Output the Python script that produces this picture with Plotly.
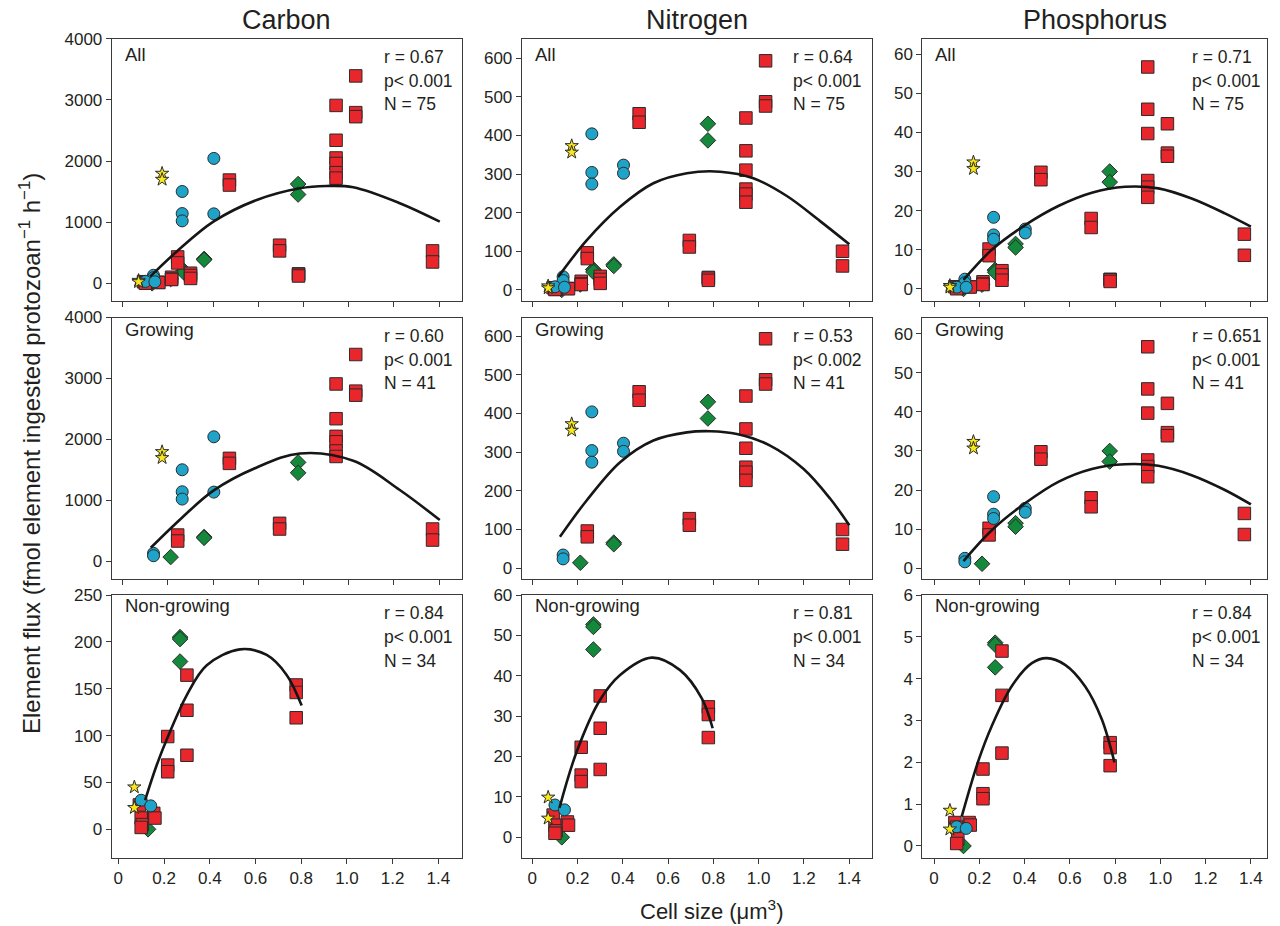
import plotly.graph_objects as go

# ---------------- DATA ----------------
elements = ["Carbon", "Nitrogen", "Phosphorus"]
conditions = ["All", "Growing", "Non-growing"]

# Growing cultures: cell sizes (um^3)
grow_sq_x = [0.243, 0.243, 0.472, 0.472, 0.694, 0.694, 0.944, 0.944, 0.944, 0.944, 0.944, 0.944,
             1.031, 1.031, 1.031, 1.371, 1.371]
grow_ci_x = [0.136, 0.136, 0.263, 0.263, 0.263, 0.403, 0.403]
grow_di_x = [0.212, 0.36, 0.36, 0.776, 0.776]
grow_st_x = [0.174, 0.174]

# Growing fluxes
C_grow_sq = [431, 333, 1689, 1607, 623, 530, 2910, 2340, 2050, 1960, 1810, 1720, 3393, 2792, 2726, 530, 349]
C_grow_ci = [131, 92, 1502, 1141, 1021, 2043, 1136]
C_grow_di = [70, 398, 385, 1623, 1452]
C_grow_st = [1797, 1698]

N_grow_sq = [96, 81, 456, 434, 128, 111, 445, 360, 310, 261, 248, 227, 593, 487, 476, 100, 62]
N_grow_ci = [34, 24, 404, 304, 274, 323, 302]
N_grow_di = [14, 66, 62, 430, 387]
N_grow_st = [373, 356]

P_grow_sq = [10.2, 8.5, 29.8, 27.9, 18.0, 15.7, 56.7, 45.9, 39.7, 27.7, 26.0, 23.4, 42.2, 34.7, 33.9, 14.0, 8.6]
P_grow_ci = [2.5, 1.6, 18.3, 13.8, 12.7, 15.3, 14.3]
P_grow_di = [1.1, 11.5, 10.6, 30.0, 27.3]
P_grow_st = [32.4, 30.7]

# Non-growing cultures: cell sizes
non_sq_x = [0.092, 0.10, 0.105, 0.155, 0.16, 0.10, 0.216, 0.216, 0.216, 0.30, 0.30, 0.30, 0.778, 0.778, 0.778]
non_ci_x = [0.10, 0.142]
non_di_x = [0.27, 0.27, 0.27, 0.13]
non_st_x = [0.07, 0.07]

# Non-growing fluxes
C_non_sq = [26, 12, 5, 17, 12, 2, 99, 68.5, 61.4, 164.5, 127, 79, 154, 146, 119]
C_non_ci = [31, 25]
C_non_di = [205, 203, 179, 0]
C_non_st = [45, 23]

N_non_sq = [5.5, 3.0, 1.6, 3.8, 3.0, 1.0, 22.3, 15.4, 13.8, 35, 27, 16.8, 32.3, 30.4, 24.7]
N_non_ci = [8.0, 6.8]
N_non_di = [52.7, 52.1, 46.5, 0]
N_non_st = [9.9, 4.7]

P_non_sq = [0.56, 0.45, 0.17, 0.56, 0.5, 0.06, 1.84, 1.25, 1.13, 4.66, 3.6, 2.22, 2.47, 2.35, 1.92]
P_non_ci = [0.46, 0.42]
P_non_di = [4.86, 4.81, 4.27, 0]
P_non_st = [0.85, 0.40]

# Fitted curves
C_all_cx = [0.121, 0.239, 0.401, 0.593, 0.784, 0.902, 1.02, 1.226, 1.403]
C_all_cy = [108, 520, 1008, 1363, 1555, 1592, 1571, 1310, 1008]
C_grow_cx = [0.124, 0.262, 0.401, 0.593, 0.784, 1.02, 1.226, 1.403]
C_grow_cy = [223, 715, 1160, 1540, 1770, 1650, 1170, 677]
C_non_cx = [0.117, 0.168, 0.219, 0.299, 0.387, 0.532, 0.649, 0.737, 0.802]
C_non_cy = [31, 68.6, 100, 143, 175, 192, 186, 164.5, 132]

N_all_cx = [0.115, 0.24, 0.388, 0.535, 0.683, 0.83, 0.977, 1.125, 1.272, 1.401]
N_all_cy = [34, 128, 215, 276, 302, 306, 289, 243, 178, 118]
N_grow_cx = [0.122, 0.24, 0.388, 0.535, 0.683, 0.786, 0.904, 1.051, 1.198, 1.316, 1.401]
N_grow_cy = [81, 175, 274, 330, 351, 354, 347, 317, 257, 180, 111]
N_non_cx = [0.12, 0.196, 0.299, 0.388, 0.528, 0.653, 0.749, 0.797]
N_non_cy = [7.3, 21.2, 34, 40.2, 44.5, 41.4, 34.4, 27]

P_all_cx = [0.13, 0.255, 0.402, 0.549, 0.697, 0.844, 0.991, 1.138, 1.285, 1.40]
P_all_cy = [2.3, 10, 16.3, 21.2, 24.6, 26.1, 25.7, 23.1, 19.3, 15.9]
P_grow_cx = [0.13, 0.255, 0.402, 0.549, 0.697, 0.844, 0.991, 1.138, 1.285, 1.40]
P_grow_cy = [1.8, 9.7, 16.6, 22.1, 25.4, 26.6, 26.2, 23.8, 20.0, 16.3]
P_non_cx = [0.122, 0.196, 0.255, 0.343, 0.432, 0.498, 0.579, 0.667, 0.741, 0.797]
P_non_cy = [0.7, 2.04, 2.87, 3.82, 4.37, 4.49, 4.33, 3.82, 3.03, 2.0]

# Statistics text
r_vals = [["0.67", "0.64", "0.71"], ["0.60", "0.53", "0.651"], ["0.84", "0.81", "0.84"]]
p_vals = [["0.001", "0.001", "0.001"], ["0.001", "0.002", "0.001"], ["0.001", "0.001", "0.001"]]
n_vals = [["75", "75", "75"], ["41", "41", "41"], ["34", "34", "34"]]

x_tickvals = [0, 0.2, 0.4, 0.6, 0.8, 1.0, 1.2, 1.4]
x_ticktext = ["0", "0.2", "0.4", "0.6", "0.8", "1.0", "1.2", "1.4"]
y_tickvals = [
    [[0, 1000, 2000, 3000, 4000], [0, 100, 200, 300, 400, 500, 600], [0, 10, 20, 30, 40, 50, 60]],
    [[0, 1000, 2000, 3000, 4000], [0, 100, 200, 300, 400, 500, 600], [0, 10, 20, 30, 40, 50, 60]],
    [[0, 50, 100, 150, 200, 250], [0, 10, 20, 30, 40, 50, 60], [0, 1, 2, 3, 4, 5, 6]],
]

# ---------------- LAYOUT / STYLE ----------------
W, H = 1280, 926
col_px = [(111.7, 461.7), (521.7, 871.7), (922.3, 1267.0)]
row_px = [(38.8, 300.7), (317.5, 579.0), (595.0, 857.7)]
x_ranges = [
    [[-0.049, 1.50], [-0.047, 1.50], [-0.052, 1.471]],
    [[-0.049, 1.50], [-0.047, 1.50], [-0.052, 1.471]],
    [[-0.029, 1.502], [-0.047, 1.50], [-0.052, 1.471]],
]
y_ranges = [
    [[-285, 4000], [-28, 650], [-3.0, 63.9]],
    [[-290, 4000], [-28, 648], [-2.8, 64.2]],
    [[-30.3, 250], [-5.05, 60], [-0.28, 6.0]],
]

FONT = "Liberation Sans, Arial, Helvetica, sans-serif"
TXT = "#231f20"
AX = "#3a3a3a"
RED, BLUE, GREEN, YELLOW = "#e8262b", "#1ea4c9", "#14893b", "#f7e71c"
EDGE = "#2b2b2b"

data_grow = {
    "Carbon": (C_grow_sq, C_grow_ci, C_grow_di, C_grow_st),
    "Nitrogen": (N_grow_sq, N_grow_ci, N_grow_di, N_grow_st),
    "Phosphorus": (P_grow_sq, P_grow_ci, P_grow_di, P_grow_st),
}
data_non = {
    "Carbon": (C_non_sq, C_non_ci, C_non_di, C_non_st),
    "Nitrogen": (N_non_sq, N_non_ci, N_non_di, N_non_st),
    "Phosphorus": (P_non_sq, P_non_ci, P_non_di, P_non_st),
}
curves = {
    "Carbon": [(C_all_cx, C_all_cy), (C_grow_cx, C_grow_cy), (C_non_cx, C_non_cy)],
    "Nitrogen": [(N_all_cx, N_all_cy), (N_grow_cx, N_grow_cy), (N_non_cx, N_non_cy)],
    "Phosphorus": [(P_all_cx, P_all_cy), (P_grow_cx, P_grow_cy), (P_non_cx, P_non_cy)],
}
grow_xs = (grow_sq_x, grow_ci_x, grow_di_x, grow_st_x)
non_xs = (non_sq_x, non_ci_x, non_di_x, non_st_x)
# drawing order: diamonds, squares, circles, stars
styles = [
    (2, "diamond", 12, GREEN),
    (0, "square", 12.5, RED),
    (1, "circle", 12, BLUE),
    (3, "star", 10, YELLOW),
]

fig = go.Figure()
layout = dict(
    width=W, height=H, autosize=False,
    margin=dict(l=0, r=0, t=0, b=0, pad=0),
    paper_bgcolor="white", plot_bgcolor="white",
    showlegend=False,
    font=dict(family=FONT, color=TXT, size=17),
)
annotations = []

for r in range(3):
    for c, el in enumerate(elements):
        i = r * 3 + c + 1
        xa = "x" if i == 1 else f"x{i}"
        ya = "y" if i == 1 else f"y{i}"
        gy = data_grow[el]
        ny = data_non[el]
        for k, sym, size, color in styles:
            if r == 0:
                xs = list(grow_xs[k]) + list(non_xs[k])
                ys = list(gy[k]) + list(ny[k])
            elif r == 1:
                xs, ys = grow_xs[k], gy[k]
            else:
                xs, ys = non_xs[k], ny[k]
            fig.add_trace(go.Scatter(
                x=xs, y=ys, mode="markers", xaxis=xa, yaxis=ya,
                marker=dict(symbol=sym, size=size, color=color,
                            line=dict(color=EDGE, width=1)),
                hoverinfo="skip"))
        cx, cy = curves[el][r]
        fig.add_trace(go.Scatter(
            x=cx, y=cy, mode="lines", xaxis=xa, yaxis=ya,
            line=dict(color="#161616", width=2.6, shape="spline", smoothing=1.0),
            hoverinfo="skip"))

        x0, x1 = col_px[c]
        y0, y1 = row_px[r]
        layout["xaxis" if i == 1 else f"xaxis{i}"] = dict(
            domain=[x0 / W, x1 / W], anchor=ya, range=x_ranges[r][c], automargin=False,
            tickvals=x_tickvals, ticktext=x_ticktext, showticklabels=(r == 2),
            ticks="outside", ticklen=5, tickwidth=1, tickcolor=AX,
            showline=True, mirror=True, linecolor=AX, linewidth=1,
            showgrid=False, zeroline=False,
            tickfont=dict(family=FONT, size=17, color=TXT))
        layout["yaxis" if i == 1 else f"yaxis{i}"] = dict(
            domain=[1 - y1 / H, 1 - y0 / H], anchor=xa, range=y_ranges[r][c], automargin=False,
            tickvals=y_tickvals[r][c], ticks="outside", ticklen=5, tickwidth=1, tickcolor=AX,
            showline=True, mirror=True, linecolor=AX, linewidth=1,
            showgrid=False, zeroline=False,
            tickfont=dict(family=FONT, size=17, color=TXT))

        xd = f"{xa} domain"
        yd = f"{ya} domain"
        ph = y1 - y0
        lab_off = [16, 11.5, 10][r]
        annotations.append(dict(
            text=conditions[r], xref=xd, yref=yd, x=0, y=1 - lab_off / ph,
            xanchor="left", yanchor="middle", xshift=11, showarrow=False,
            font=dict(family=FONT, size=18.5, color=TXT)))
        stat_lines = [f"r = {r_vals[r][c]}", f"p< {p_vals[r][c]}", f"N = {n_vals[r][c]}"]
        stat_x = [77, 78, 74][c]
        for j, t in enumerate(stat_lines):
            off = [18, 42, 65.5][j]
            annotations.append(dict(
                text=t, xref=xd, yref=yd, x=1, y=1 - off / ph,
                xanchor="left", yanchor="middle", xshift=-stat_x - 3, showarrow=False,
                font=dict(family=FONT, size=17.5, color=TXT)))
        if r == 0:
            annotations.append(dict(
                text=el, xref=xd, yref="paper", x=0.5, y=1 - 20 / H,
                xanchor="center", yanchor="middle", showarrow=False,
                font=dict(family=FONT, size=27, color=TXT)))

annotations.append(dict(
    text="Element flux (fmol element ingested protozoan<sup>\u22121</sup> h<sup>\u22121</sup>)",
    xref="paper", yref="paper", x=30 / W, y=1 - 454 / H, textangle=-90,
    xanchor="center", yanchor="middle", showarrow=False,
    font=dict(family=FONT, size=24, color=TXT)))
annotations.append(dict(
    text="Cell size (\u03bcm<sup>3</sup>)",
    xref="paper", yref="paper", x=711 / W, y=1 - 910 / H,
    xanchor="center", yanchor="middle", showarrow=False,
    font=dict(family=FONT, size=22, color=TXT)))

layout["annotations"] = annotations
fig.update_layout(**layout)
fig.write_html("out.html")
